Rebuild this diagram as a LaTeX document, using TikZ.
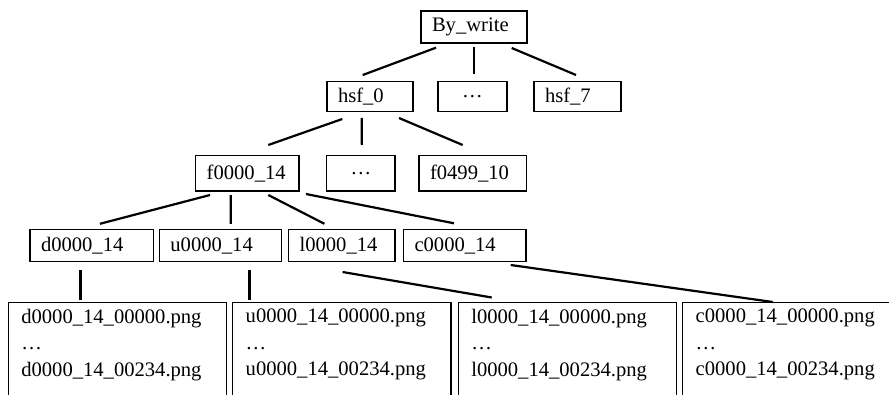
\documentclass[tikz,border=0pt]{standalone}
\usepackage{fontspec}
\setmainfont{Liberation Serif}
% three-line list of png files for one folder
\newcommand{\pnglist}[1]{\parbox[t][100pt][t]{192.4pt}{#10000\_14\_00000.png\\…\\#10000\_14\_00234.png}}
\begin{document}
\begin{tikzpicture}[x=1pt,y=-1pt,
    font=\fontsize{20.6}{26.4}\selectfont,
    tag/.style={draw,line width=1.3pt,anchor=north west,inner xsep=11pt,inner ysep=0pt,outer sep=0pt,align=left},
    dots/.style={tag,align=center},
    pngbox/.style={draw,line width=1.3pt,anchor=north west,inner xsep=13pt,inner ysep=6.4pt,outer sep=0pt},
    link/.style={line width=2.2pt}]
\useasboundingbox (0,0) rectangle (889,394);
\clip (0,0) rectangle (889,394);
% top levels
\node[tag,text width=84pt,minimum height=32pt] (root) at (421,11) {By\_write};
\node[tag,text width=64pt,minimum height=30pt] (hsfa) at (327,81.5) {hsf\_0};
\node[dots,text width=47pt,minimum height=30pt] (hsfd) at (438,81.5) {…};
\node[tag,text width=65pt,minimum height=30pt] (hsfb) at (534,81.5) {hsf\_7};
\node[tag,text width=81.3pt,minimum height=35.5pt] (fa) at (195.7,155.5) {f0000\_14};
\node[dots,text width=46.3pt,minimum height=35.5pt] (fd) at (326.7,155.5) {…};
\node[tag,text width=85.7pt,minimum height=35.5pt] (fb) at (419,155.5) {f0499\_10};
% image folders
\node[tag,text width=101.6pt,minimum height=32pt] (dd) at (30,229.5) {d0000\_14};
\node[tag,text width=100.3pt,minimum height=32pt] (uu) at (159.4,229.5) {u0000\_14};
\node[tag,text width=84.4pt,minimum height=32pt] (ll) at (288.6,229.5) {l0000\_14};
\node[tag,text width=100.5pt,minimum height=32pt] (cc) at (403.5,229.5) {c0000\_14};
% files
\node[pngbox] (dpng) at (8.3,302.7) {\pnglist{d}};
\node[pngbox] (upng) at (232.7,302.7) {\pnglist{u}};
\node[pngbox] (lpng) at (458.3,302.7) {\pnglist{l}};
\node[pngbox] (cpng) at (682.7,302.7) {\pnglist{c}};
% connectors
\draw[link] ([xshift=15pt,yshift=-4.7pt]root.south west) -- ([xshift=35.7pt,yshift=6.5pt]hsfa.north west);
\draw[link] ([yshift=-4pt]root.south) -- ([xshift=1.5pt,yshift=7.5pt]hsfd.north);
\draw[link] ([xshift=-15.3pt,yshift=-5pt]root.south east) -- ([xshift=42pt,yshift=6.5pt]hsfb.north west);
\draw[link] ([xshift=15.3pt,yshift=-7.5pt]hsfa.south west) -- ([xshift=72.6pt,yshift=10.5pt]fa.north west);
\draw[link] ([xshift=34.7pt,yshift=-6.5pt]hsfa.south west) -- ([xshift=1pt,yshift=10.5pt]fd.north);
\draw[link] ([xshift=-14pt,yshift=-6.5pt]hsfa.south east) -- ([xshift=43.7pt,yshift=10.5pt]fb.north west);
\draw[link] ([xshift=14.3pt,yshift=-4pt]fa.south west) -- ([xshift=69.9pt,yshift=5.7pt]dd.north west);
\draw[link] ([xshift=35pt,yshift=-4pt]fa.south west) -- ([xshift=10.15pt,yshift=5.7pt]uu.north);
\draw[link] ([xshift=72.6pt,yshift=-4pt]fa.south west) -- ([xshift=35.8pt,yshift=5.7pt]ll.north west);
\draw[link] ([xshift=7pt,yshift=-3pt]fa.south east) -- ([xshift=50.5pt,yshift=6.2pt]cc.north west);
\draw[link] ([xshift=50.5pt,yshift=-8.5pt]dd.south west) -- ([xshift=72.2pt,yshift=2.7pt]dpng.north west);
\draw[link] ([xshift=90.1pt,yshift=-8.5pt]uu.south west) -- ([xshift=16.8pt,yshift=2.7pt]upng.north west);
\draw[link] ([xshift=54pt,yshift=-10.5pt]ll.south west) -- ([xshift=33.4pt,yshift=5.2pt]lpng.north west);
\draw[link] ([xshift=-15.3pt,yshift=-3.5pt]cc.south east) -- ([xshift=90pt,yshift=0.7pt]cpng.north west);
\end{tikzpicture}
\end{document}
